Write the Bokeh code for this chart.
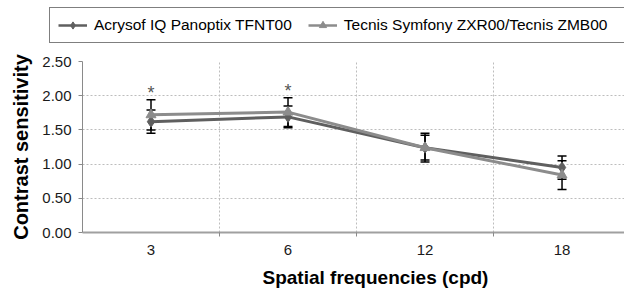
from bokeh.plotting import figure
from bokeh.layouts import column
from bokeh.models import (ColumnDataSource, Whisker, TeeHead, Legend, LegendItem,
                          Title, Range1d, FixedTicker, Grid)
from bokeh.core.properties import value
from bokeh.embed import file_html
from bokeh.resources import INLINE

# ---- data ----
categories = ["3", "6", "12", "18"]
series_names = ["Acrysof IQ Panoptix TFNT00", "Tecnis Symfony ZXR00/Tecnis ZMB00"]
acrysof = [1.62, 1.69, 1.24, 0.95]
acrysof_err = [0.17, 0.16, 0.18, 0.17]
tecnis = [1.72, 1.76, 1.24, 0.84]
tecnis_err = [0.22, 0.21, 0.21, 0.21]
sig_cats = ["3", "6"]
sig_y = [2.05, 2.08]
y_ticks = [0.0, 0.5, 1.0, 1.5, 2.0, 2.5]

FONT = "Liberation Sans"
C1 = "#5f5f5f"
C2 = "#8c8c8c"

xpos = [i + 0.5 for i in range(len(categories))]
src1 = ColumnDataSource(dict(x=xpos, y=acrysof,
                             lo=[v - e for v, e in zip(acrysof, acrysof_err)],
                             hi=[v + e for v, e in zip(acrysof, acrysof_err)]))
src2 = ColumnDataSource(dict(x=xpos, y=tecnis,
                             lo=[v - e for v, e in zip(tecnis, tecnis_err)],
                             hi=[v + e for v, e in zip(tecnis, tecnis_err)]))
sig_src = ColumnDataSource(dict(x=[categories.index(c) + 0.5 for c in sig_cats], y=sig_y,
                                t=["*"] * len(sig_cats)))

# ---------- legend strip ----------
lg = figure(width=624, height=50, output_backend="svg", toolbar_location=None,
            x_range=Range1d(0, 1), y_range=Range1d(0, 1),
            min_border=0, min_border_left=0, min_border_right=0,
            min_border_top=0, min_border_bottom=0)
lg.frame_align = False
lg.axis.visible = False
lg.grid.visible = False
lg.outline_line_color = None
# legend-only renderers: one point placed outside the visible range
off = ColumnDataSource(dict(x=[-5], y=[-5]))
dl1 = lg.line("x", "y", source=off, line_color=C1, line_width=2.5)
dm1 = lg.scatter("x", "y", source=off, marker="diamond", size=9, fill_color=C1, line_color=C1)
dl2 = lg.line("x", "y", source=off, line_color=C2, line_width=2.5)
dm2 = lg.scatter("x", "y", source=off, marker="triangle", size=8, fill_color=C2, line_color=C2)
blank = lg.line("x", "y", source=off, line_alpha=0)
legend = Legend(items=[LegendItem(label=series_names[0], renderers=[dl1, dm1]),
                       LegendItem(label=series_names[1], renderers=[dl2, dm2]),
                       LegendItem(label="\u00a0", renderers=[blank])],
                orientation="horizontal", location=(49, 7),
                label_text_font=FONT, label_text_font_size="15.5px", label_text_color="black",
                glyph_width=29, glyph_height=18, label_standoff=7, spacing=16,
                padding=8, margin=0, border_line_color="black", border_line_width=1.5,
                background_fill_alpha=1.0)
lg.add_layout(legend, "center")

# ---------- main chart ----------
p = figure(width=624, height=243, output_backend="svg", toolbar_location=None,
           x_range=Range1d(0, 3.956), y_range=Range1d(0, 2.5),
           min_border_left=82, min_border_right=0, min_border_top=11, min_border_bottom=61)
p.frame_align = False
p.outline_line_color = None
p.background_fill_color = "white"
p.border_fill_color = "white"

p.xgrid.visible = False
p.ygrid.ticker = FixedTicker(ticks=[0.5, 1.0, 1.5, 2.0, 2.5])
p.ygrid.grid_line_color = "#bdbdbd"
p.ygrid.grid_line_dash = "2 2"
p.ygrid.grid_line_width = 1
vgrid = Grid(dimension=0, ticker=FixedTicker(ticks=[1, 2, 3]),
             grid_line_color="#bdbdbd", grid_line_dash="2 2", grid_line_width=1)
p.add_layout(vgrid)

p.xaxis.ticker = FixedTicker(ticks=xpos, minor_ticks=[1, 2, 3])
p.xaxis.major_label_overrides = {x: c for x, c in zip(xpos, categories)}
p.xaxis.major_tick_out = 0
p.xaxis.major_tick_in = 0
p.xaxis.minor_tick_out = 4
p.xaxis.minor_tick_in = 0
p.xaxis.minor_tick_line_color = "#8a8a8a"
p.xaxis.axis_line_color = "#a0a0a0"
p.xaxis.axis_line_width = 2
p.xaxis.major_label_standoff = 8
p.xaxis.major_label_text_font = FONT
p.xaxis.major_label_text_font_size = "15px"
p.xaxis.major_label_text_color = "#1a1a1a"

p.yaxis.ticker = FixedTicker(ticks=y_ticks)
p.yaxis.major_label_overrides = {t: f"{t:.2f}" for t in y_ticks}
p.yaxis.minor_tick_line_color = None
p.yaxis.major_tick_out = 4
p.yaxis.major_tick_in = 0
p.yaxis.major_tick_line_color = "#8a8a8a"
p.yaxis.axis_line_color = "#8a8a8a"
p.yaxis.major_label_standoff = 7
p.yaxis.major_label_text_font = FONT
p.yaxis.major_label_text_font_size = "15px"
p.yaxis.major_label_text_color = "#1a1a1a"
p.yaxis.axis_label = "Contrast sensitivity"
p.yaxis.axis_label_text_font = FONT
p.yaxis.axis_label_text_font_style = "bold"
p.yaxis.axis_label_text_font_size = "20px"
p.yaxis.axis_label_text_color = "black"
p.yaxis.axis_label_standoff = 7

# small empty spacer between the tick labels and the axis title
spacer = Title(text="\u00a0", text_font_size="4px", standoff=0)
p.add_layout(spacer, "below")
xt = Title(text="Spatial frequencies (cpd)", align="left", offset=180,
           text_font=FONT, text_font_style="bold", text_font_size="19px",
           text_color="black", standoff=0)
p.add_layout(xt, "below")

for s in (src2, src1):
    w = Whisker(base="x", lower="lo", upper="hi", source=s, dimension="height",
                line_color="black", line_width=1.5,
                upper_head=TeeHead(size=9, line_color="black", line_width=1.5),
                lower_head=TeeHead(size=9, line_color="black", line_width=1.5))
    p.add_layout(w)

p.line("x", "y", source=src1, line_color=C1, line_width=3)
p.scatter("x", "y", source=src1, marker="diamond", size=11, fill_color=C1, line_color=C1)
p.line("x", "y", source=src2, line_color=C2, line_width=3)
p.scatter("x", "y", source=src2, marker="triangle", size=10, fill_color=C2, line_color=C2)

p.text("x", "y", text="t", source=sig_src, text_align="center",
       text_baseline="alphabetic", y_offset=1, text_font=value(FONT),
       text_font_size="18px", text_color="#555555")

layout = column(lg, p, spacing=0)
open("out.html", "w").write(file_html(layout, INLINE))
